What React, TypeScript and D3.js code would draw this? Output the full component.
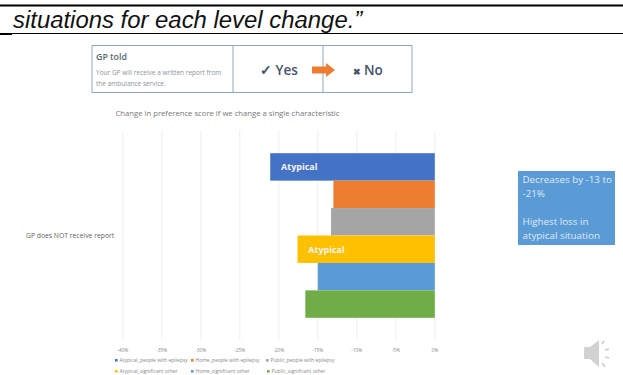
import React from "react";
import * as d3 from "d3";

const seriesNames = [
  "Atypical_people with epilepsy",
  "Home_people with epilepsy",
  "Public_people with epilepsy",
  "Atypical_significant other",
  "Home_significant other",
  "Public_significant other",
];
const seriesValues = [-21.1, -13.0, -13.3, -17.6, -15.0, -16.6];
const seriesColors = ["#4472c4", "#ed7d31", "#a5a5a5", "#ffc000", "#5b9bd5", "#70ad47"];
const barLabels = ["Atypical", "", "", "Atypical", "", ""];
const tickValues = [-40, -35, -30, -25, -20, -15, -10, -5, 0];
const categoryLabel = "GP does NOT receive report";
const legendRows = [[0, 1, 2], [3, 4, 5]];
const legendColumns = [[115, 191, 266], [115, 191, 267]];
const legendBaselines = [362, 373];

const sans = "'Open Sans', sans-serif";

export default function App() {
  const x = d3.scaleLinear().domain([-40, 0]).range([122.8, 434.8]);
  const y = d3.scaleBand<number>().domain(d3.range(seriesValues.length)).range([153.2, 317.8]);
  return (
    <svg
      width={623}
      height={375}
      style={{ position: "absolute", left: 0, top: 0, background: "#fff" }}
      fontFamily={sans}
    >
      {/* slide heading strip */}
      <line x1={0} x2={623} y1={5.5} y2={5.5} stroke="#000" strokeWidth={2} />
      <line x1={0} x2={623} y1={33.5} y2={33.5} stroke="#000" strokeWidth={1} />
      <line x1={0} x2={12} y1={34} y2={34} stroke="#000" strokeWidth={2} />
      <text x={13} y={27.5} fontFamily="'Liberation Sans', Arial, sans-serif" fontStyle="italic" fontSize={23.9} fill="#111">
        situations for each level change.”
      </text>

      {/* attribute card */}
      <g stroke="#8fa9b8" fill="none">
        <rect x={92} y={45.5} width={320} height={47} strokeWidth={1} />
        <line x1={233} x2={233} y1={45.5} y2={92.5} />
        <line x1={323} x2={323} y1={45.5} y2={92.5} />
      </g>
      <text x={96} y={60} fontSize={8.8} fontWeight={600} fill="#5a6672">GP told</text>
      <text x={96} y={75} fontSize={6.5} fill="#8a939b">Your GP will receive a written report from</text>
      <text x={96} y={85.5} fontSize={6.5} fill="#8a939b">the ambulance service.</text>
      <text x={260} y={75} fontSize={13.5} fontWeight={600} fill="#44546a">✓ Yes</text>
      <path d="M312,66.5 H326 V63 L335,70 L326,77 V73.5 H312 Z" fill="#ed7d31" />
      <text x={353} y={75} fontSize={9} fontWeight={600} fill="#44546a">✖</text>
      <text x={364} y={75} fontSize={13.5} fontWeight={600} fill="#44546a">No</text>

      <text x={227.5} y={116} textAnchor="middle" fontSize={7.7} fill="#777">
        Change in preference score if we change a single characteristic
      </text>

      {/* gridlines */}
      {tickValues.map((t) => (
        <line key={t} x1={x(t)} x2={x(t)} y1={130} y2={340} stroke="#eeeeee" strokeWidth={1} />
      ))}

      {/* bars */}
      {seriesValues.map((v, i) => (
        <g key={seriesNames[i]}>
          <rect x={x(v)} y={y(i)} width={x(0) - x(v)} height={y.bandwidth()} fill={seriesColors[i]} />
          {barLabels[i] && (
            <text x={x(v) + 10.8} y={y(i)! + y.bandwidth() / 2 + 3.5} fontSize={9} fontWeight={700} fill="#f4f4f4">
              {barLabels[i]}
            </text>
          )}
        </g>
      ))}

      <text x={26} y={238} fontSize={6.8} fill="#666">{categoryLabel}</text>

      {/* value axis */}
      {tickValues.map((t) => (
        <text key={t} x={x(t)} y={352} textAnchor="middle" fontSize={4.8} fill="#888">
          {t}%
        </text>
      ))}

      {/* legend */}
      {legendRows.map((row, r) =>
        row.map((s, c) => {
          const lx = legendColumns[r][c];
          const ly = legendBaselines[r];
          return (
            <g key={s}>
              <rect x={lx} y={ly - 3} width={2.6} height={2.6} fill={seriesColors[s]} />
              <text x={lx + 4.5} y={ly} fontSize={5} fill="#888">{seriesNames[s]}</text>
            </g>
          );
        })
      )}

      {/* takeaway callout */}
      <rect x={518} y={171} width={97} height={74} fill="#5b9bd5" />
      <g fontSize={9.8} fill="#dfeaf5">
        <text x={522.5} y={183}>Decreases by -13 to</text>
        <text x={522.5} y={197}>-21%</text>
        <text x={522.5} y={225}>Highest loss in</text>
        <text x={522.5} y={239}>atypical situation</text>
      </g>

      {/* audio icon */}
      <path d="M584,347 H590 L599,340 V367 L590,359 H584 Z" fill="#d2d2d2" />
      <g stroke="#cccccc" strokeWidth={1.5} fill="none">
        <line x1={602} y1={344} x2={604} y2={341} />
        <line x1={605} y1={350} x2={609} y2={349} />
        <line x1={605} y1={357} x2={609} y2={358} />
        <line x1={602} y1={363} x2={605} y2={367} />
      </g>
    </svg>
  );
}
